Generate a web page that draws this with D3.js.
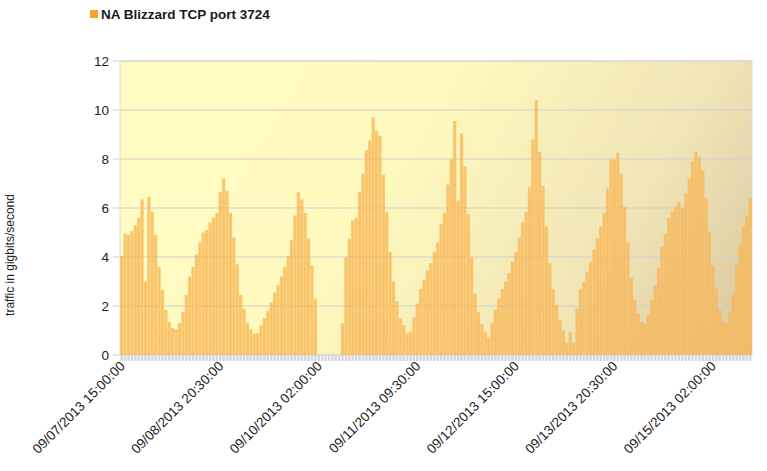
<!DOCTYPE html>
<html>
<head>
<meta charset="utf-8">
<script src="https://cdn.jsdelivr.net/npm/d3@7/dist/d3.min.js"></script>
<style>
  body { margin: 0; background: #fff; }
  svg { display: block; font-family: "Liberation Sans", Arial, sans-serif; }
</style>
</head>
<body>
<svg id="chart" width="767" height="471"></svg>
<script>
// ========= Data =========
const seriesName = 'NA Blizzard TCP port 3724';
const yTitle = 'traffic in gigbits/second';

// one bar per sample, gigabits/second
const traffic = [
  4.05, 4.95, 4.9, 5.05, 5.3, 5.6, 6.35, 3.0, 6.45, 5.85,
  4.9, 3.6, 2.65, 1.85, 1.35, 1.1, 1.05, 1.3, 1.75, 2.45,
  3.2, 3.6, 4.1, 4.6, 5.0, 5.1, 5.4, 5.6, 5.8, 6.65,
  7.2, 6.7, 5.8, 4.8, 3.7, 2.45, 1.9, 1.3, 1.05, 0.88,
  0.9, 1.2, 1.5, 1.8, 2.15, 2.55, 2.85, 3.2, 3.6, 4.05,
  4.7, 5.7, 6.65, 6.35, 5.8, 4.75, 3.65, 2.3, 0, 0,
  0, 0, 0, 0, 0, 1.3, 4.0, 4.75, 5.5, 5.6,
  6.65, 7.4, 8.35, 8.75, 9.7, 9.15, 8.95, 7.35, 5.85, 4.2,
  3.0, 2.2, 1.5, 1.22, 0.88, 0.95, 1.55, 2.1, 2.7, 3.05,
  3.45, 3.75, 4.2, 4.6, 5.35, 5.8, 6.95, 8.0, 9.55, 6.3,
  9.05, 7.7, 5.75, 4.0, 2.5, 1.75, 1.25, 0.95, 0.7, 1.3,
  1.85, 2.3, 2.7, 3.0, 3.35, 3.8, 4.2, 4.8, 5.4, 5.85,
  6.85, 8.8, 10.4, 8.3, 6.9, 5.25, 3.75, 2.7, 2.05, 1.45,
  1.0, 0.5, 0.95, 0.5, 1.9, 2.7, 3.0, 3.4, 3.8, 4.3,
  4.75, 5.25, 5.8, 6.8, 8.0, 7.95, 8.25, 7.4, 6.05, 4.6,
  3.15, 2.25, 1.7, 1.35, 1.3, 1.65, 2.25, 2.85, 3.55, 4.4,
  4.95, 5.6, 5.85, 6.05, 6.25, 6.0, 6.6, 7.2, 7.9, 8.3,
  8.1, 7.55, 6.4, 5.0, 3.65, 2.7, 1.85, 1.35, 1.3, 1.75,
  2.5, 3.7, 4.5, 5.25, 5.7, 6.4
];

const tickLabels = [
  '09/07/2013 15:00:00', '09/08/2013 20:30:00', '09/10/2013 02:00:00',
  '09/11/2013 09:30:00', '09/12/2013 15:00:00', '09/13/2013 20:30:00',
  '09/15/2013 02:00:00'
];
const tickIndex = [0, 29, 58, 87, 116, 145, 174];
const yTicks = [0, 2, 4, 6, 8, 10, 12];

// ========= Layout =========
const width = 767, height = 471;
const margin = {top: 61, right: 15, bottom: 116, left: 120};
const innerW = width - margin.left - margin.right;
const innerH = height - margin.top - margin.bottom;

const svg = d3.select('#chart');

const x = d3.scaleBand()
  .domain(d3.range(traffic.length))
  .range([0, innerW])
  .paddingInner(0.06)
  .paddingOuter(0.03);

const y = d3.scaleLinear()
  .domain([0, 12])
  .range([innerH, 0]);

// background gradient, pale yellow to tan towards bottom right
const defs = svg.append('defs');
const grad = defs.append('linearGradient')
  .attr('id', 'bg')
  .attr('gradientUnits', 'userSpaceOnUse')
  .attr('x1', 150).attr('y1', 0)
  .attr('x2', innerW).attr('y2', innerH);
grad.append('stop').attr('offset', 0).attr('stop-color', '#fffbc2');
grad.append('stop').attr('offset', 0.3).attr('stop-color', '#fdf8be');
grad.append('stop').attr('offset', 0.7).attr('stop-color', '#efe4b6');
grad.append('stop').attr('offset', 1).attr('stop-color', '#d9c59d');

const g = svg.append('g')
  .attr('transform', `translate(${margin.left},${margin.top})`);

g.append('rect')
  .attr('width', innerW)
  .attr('height', innerH)
  .attr('fill', 'url(#bg)')
  .attr('stroke', '#dcdcdc');

// ========= Grid + y axis =========
g.selectAll('.grid')
  .data(yTicks)
  .enter()
  .append('line')
  .attr('class', 'grid')
  .attr('x1', -7).attr('x2', innerW)
  .attr('y1', d => y(d)).attr('y2', d => y(d))
  .attr('stroke', '#cfcfcf')
  .attr('stroke-width', 1);

g.selectAll('.ylab')
  .data(yTicks)
  .enter()
  .append('text')
  .attr('class', 'ylab')
  .attr('x', -11)
  .attr('y', d => y(d))
  .attr('dy', '0.36em')
  .attr('text-anchor', 'end')
  .attr('font-size', 13.5)
  .attr('fill', '#222')
  .text(d => d);

// ========= Bars =========
g.selectAll('.bar')
  .data(traffic)
  .enter()
  .append('rect')
  .attr('class', 'bar')
  .attr('x', (d, i) => x(i))
  .attr('width', x.bandwidth())
  .attr('y', d => y(d))
  .attr('height', d => innerH - y(d))
  .attr('fill', '#f8b653')
  .attr('fill-opacity', 0.76);

// ========= x axis =========
const xAxis = g.append('g')
  .attr('transform', `translate(0,${innerH})`)
  .call(d3.axisBottom(x).tickSize(6).tickFormat(''));
xAxis.select('.domain').remove();
xAxis.selectAll('.tick line')
  .attr('stroke', '#d6d6de')
  .attr('stroke-width', x.step() - 0.9);

g.selectAll('.xlab')
  .data(tickIndex)
  .enter()
  .append('text')
  .attr('class', 'xlab')
  .attr('text-anchor', 'end')
  .attr('font-size', 13.5)
  .attr('fill', '#222')
  .attr('transform', d => `translate(${x(d) + x.bandwidth() / 2 + 4},${innerH + 12}) rotate(-45)`)
  .text((d, i) => tickLabels[i]);

// ========= Titles =========
svg.append('text')
  .attr('transform', `translate(14,${margin.top + 194}) rotate(-90)`)
  .attr('text-anchor', 'middle')
  .attr('font-size', 12)
  .attr('fill', '#222')
  .text(yTitle);

const legend = svg.append('g').attr('transform', 'translate(90,9)');
legend.append('rect')
  .attr('width', 8).attr('height', 8)
  .attr('y', 1)
  .attr('fill', '#f8a524');
legend.append('text')
  .attr('x', 11).attr('y', 9.5)
  .attr('font-size', 13.5)
  .attr('font-weight', 'bold')
  .attr('fill', '#1a1a1a')
  .text(seriesName);
</script>
</body>
</html>
